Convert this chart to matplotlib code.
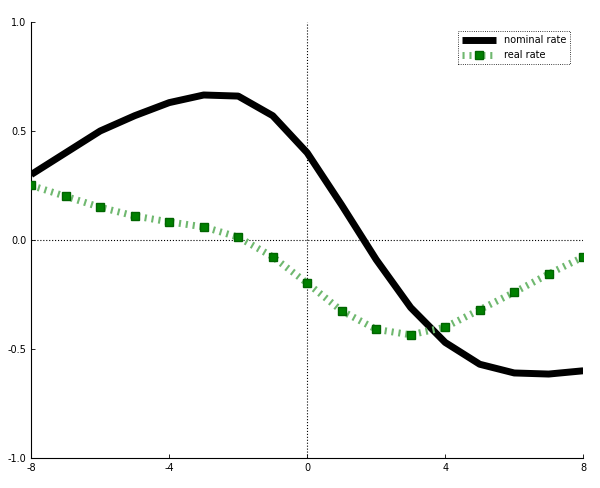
import matplotlib
matplotlib.use("Agg")
import matplotlib.pyplot as plt

quarters = [-8, -7, -6, -5, -4, -3, -2, -1, 0, 1, 2, 3, 4, 5, 6, 7, 8]
nominal_rate = [0.30, 0.40, 0.50, 0.57, 0.63, 0.665, 0.66, 0.57, 0.40, 0.16,
                -0.09, -0.31, -0.47, -0.57, -0.61, -0.615, -0.60]
real_rate = [0.25, 0.20, 0.15, 0.11, 0.083, 0.06, 0.013, -0.077, -0.198, -0.325,
             -0.41, -0.435, -0.40, -0.32, -0.24, -0.156, -0.078]
x_ticks = [-8, -4, 0, 4, 8]
y_ticks = [-1.0, -0.5, 0.0, 0.5, 1.0]

fig = plt.figure(figsize=(6, 4.88), dpi=100)
ax = fig.add_axes([0.052, 0.0615, 0.920, 0.8935])

ax.axhline(0, color="black", linestyle=":", linewidth=0.8, zorder=1)
ax.axvline(0, color="black", linestyle=":", linewidth=0.8, zorder=1)

ax.plot(quarters, nominal_rate, color="black", linewidth=5, label="nominal rate",
        solid_capstyle="butt", zorder=3)
ax.plot(quarters, real_rate, color="#6fb86f", linestyle=(0, (0.3, 0.7)), linewidth=5,
        marker="s", markersize=6, markerfacecolor="#008000",
        markeredgecolor="#006400", label="real rate", zorder=4)

ax.set_xlim(-8, 8)
ax.set_ylim(-1, 1)
ax.set_xticks(x_ticks)
ax.set_xticklabels([str(t) for t in x_ticks])
ax.set_yticks(y_ticks)
ax.set_yticklabels(["%.1f" % t for t in y_ticks])
ax.tick_params(direction="in", labelsize=7, length=3, width=0.6)
ax.spines["top"].set_visible(False)
ax.spines["right"].set_visible(False)
ax.spines["left"].set_linewidth(0.8)
ax.spines["bottom"].set_linewidth(0.8)

leg = ax.legend(loc="upper right", fontsize=7, fancybox=False, framealpha=1,
                borderpad=0.4, handlelength=3.5, bbox_to_anchor=(0.985, 0.99))
leg.get_frame().set_edgecolor("black")
leg.get_frame().set_linewidth(0.6)
leg.get_frame().set_linestyle(":")

fig.savefig("out.png", dpi=100)
